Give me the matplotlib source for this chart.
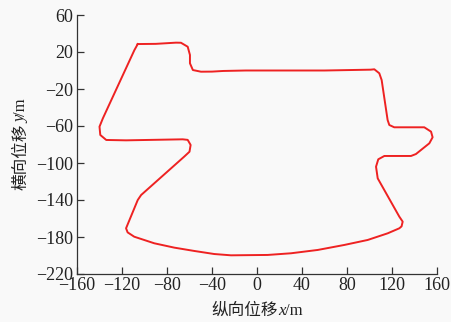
import numpy as np
import matplotlib
matplotlib.use("Agg")
import matplotlib.pyplot as plt

# vehicle trajectory (closed loop), metres
x = [-106, -90, -72, -67.6, -61.6, -59.6, -59.6, -57, -49.8, -40, -30, -10, 20, 60, 101,
     104.3, 108.7, 110.8, 116.1, 117.6, 122, 148.7, 154.7, 156.1, 153.2, 141.3, 136.9,
     113.2, 107.8, 105.8, 107.3, 126.5, 129.5, 128.5, 126.5, 116.2, 98.4, 77.6, 54, 30.2,
     9.5, -23.1, -38, -55.7, -73.5, -91.3, -109.1, -115, -116.4, -106, -103, -64.6, -60,
     -59, -61.6, -66, -116.4, -134, -139.3, -140, -137, -109, -106]
y = [28.6, 28.8, 30.1, 30, 25.7, 16.8, 7.8, 0.5, -1.3, -1.2, -0.5, 0, 0, 0, 0.9,
     1.3, -3, -10.3, -53.5, -58.9, -61.4, -61.4, -66.1, -72.2, -78.7, -90.3, -92.4,
     -92.4, -96, -104, -116.6, -158, -163.4, -168.5, -170.6, -176, -183.2, -188.6, -194, -197.6,
     -199.4, -199.8, -198.4, -195.1, -191.5, -186.8, -179.7, -175, -170.6, -140, -134.6, -93, -87.8,
     -80.5, -75, -74.4, -75.5, -75.1, -69.7, -60.7, -51.7, 22, 28.6]

xticks = [-160, -120, -80, -40, 0, 40, 80, 120, 160]
yticks = [-220, -180, -140, -100, -60, -20, 20, 60]

serif = "Liberation Serif"
cjk = "Noto Sans CJK SC"
plt.rcParams["font.family"] = [serif, cjk]
plt.rcParams["axes.unicode_minus"] = True

W, H = 452, 322
fig = plt.figure(figsize=(W / 100, H / 100), dpi=100, facecolor="#f9f9f9")
ax = fig.add_axes([77 / W, 1 - 274 / H, 360 / W, 259 / H])
ax.set_facecolor("#f9f9f9")

ax.plot(x, y, color="#ee2222", lw=1.4, solid_joinstyle="round")

ax.set_xlim(-160, 160)
ax.set_ylim(-220, 60)
ax.set_xticks(xticks)
ax.set_yticks(yticks)
ax.spines["top"].set_visible(False)
ax.spines["right"].set_visible(False)
for s in ("left", "bottom"):
    ax.spines[s].set_color("#333333")
    ax.spines[s].set_linewidth(0.9)
ax.tick_params(direction="in", length=5, width=0.9, color="#333333",
               labelsize=13, labelcolor="#222222", pad=3)
ax.tick_params(axis="x", pad=2)
for lab in ax.get_xticklabels() + ax.get_yticklabels():
    lab.set_fontfamily(serif)


# axis titles built from pieces: CJK text, italic variable, unit
def piece_widths(parts):
    r = fig.canvas.get_renderer()
    widths = []
    for txt, fam, style in parts:
        t = fig.text(0, 0, txt, fontsize=12, family=fam, style=style)
        widths.append(t.get_window_extent(r).width)
        t.remove()
    return widths


xparts = [("纵向位移", cjk, "normal"), ("x", serif, "italic"), ("/m", serif, "normal")]
pos = 257 - sum(piece_widths(xparts)) / 2
for (txt, fam, style), w in zip(xparts, piece_widths(xparts)):
    fig.text(pos / W, 1 - 315 / H, txt, fontsize=12, family=fam, style=style,
             color="#222222", ha="left", va="baseline")
    pos += w

# vertical label reads bottom to top
yparts = [("横向位移", cjk, "normal"), ("y", serif, "italic"), ("/m", serif, "normal")]
widths = piece_widths(yparts)
bottom = 144 + sum(widths) / 2
for (txt, fam, style), w in zip(yparts, widths):
    fig.text(25 / W, 1 - bottom / H, txt, fontsize=12, family=fam, style=style,
             color="#222222", rotation=90, rotation_mode="anchor",
             ha="left", va="baseline")
    bottom -= w

fig.savefig("out.png", dpi=100, facecolor=fig.get_facecolor())
